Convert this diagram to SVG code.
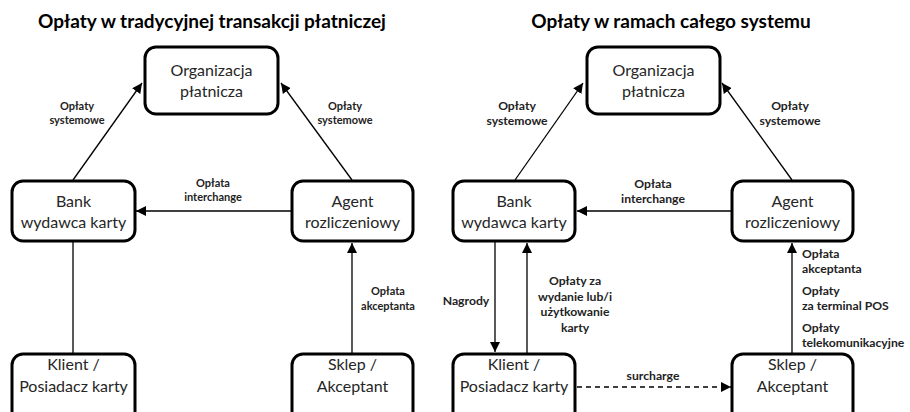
<svg xmlns="http://www.w3.org/2000/svg" width="910" height="412" viewBox="0 0 910 412">
<defs>
<style>
.box{fill:#fff;stroke:#000;stroke-width:3}
.t{font-family:Lato,"Open Sans","Liberation Sans",sans-serif;font-size:16px;fill:#262626;text-anchor:middle}
.title{font-family:Lato,"Open Sans","Liberation Sans",sans-serif;font-size:19px;font-weight:bold;fill:#000;text-anchor:middle}
.lb{font-family:Lato,"Open Sans","Liberation Sans",sans-serif;font-size:11px;font-weight:bold;fill:#222;text-anchor:middle}
.lb2{font-size:12.2px}
.ls{text-anchor:start}
.c{stroke:#000;stroke-width:1.3;fill:none}
.d{stroke-dasharray:5 4}
</style>
<marker id="ah" viewBox="0 0 10 10" refX="10" refY="5" markerWidth="10" markerHeight="10" markerUnits="userSpaceOnUse" orient="auto">
<path d="M0,0 L10,5 L0,10 z" fill="#000"/>
</marker>
</defs>
<rect width="910" height="412" fill="#fff"/>
<text class="title" x="212" y="28">Opłaty w tradycyjnej transakcji płatniczej</text>
<text class="title" x="671" y="28">Opłaty w ramach całego systemu</text>

<g id="connectors">
<line class="c" x1="73" y1="180" x2="142" y2="83" marker-end="url(#ah)"/>
<line class="c" x1="352" y1="180" x2="281" y2="83" marker-end="url(#ah)"/>
<line class="c" x1="292" y1="211" x2="136" y2="211" marker-end="url(#ah)"/>
<line class="c" x1="73" y1="242" x2="73" y2="353"/>
<line class="c" x1="352" y1="353" x2="352" y2="243" marker-end="url(#ah)"/>

<line class="c" x1="515" y1="180" x2="583" y2="83" marker-end="url(#ah)"/>
<line class="c" x1="792" y1="180" x2="722" y2="83" marker-end="url(#ah)"/>
<line class="c" x1="732" y1="211" x2="577" y2="211" marker-end="url(#ah)"/>
<line class="c" x1="495" y1="242" x2="495" y2="352" marker-end="url(#ah)"/>
<line class="c" x1="527" y1="353" x2="527" y2="243" marker-end="url(#ah)"/>
<line class="c" x1="792" y1="353" x2="792" y2="243" marker-end="url(#ah)"/>
<line class="c d" x1="577" y1="387" x2="731" y2="387" marker-end="url(#ah)"/>
</g>

<g id="labels">
<text class="lb" x="77" y="110">Opłaty</text><text class="lb" x="77" y="124">systemowe</text>
<text class="lb" x="345" y="110">Opłaty</text><text class="lb" x="345" y="124">systemowe</text>
<text class="lb" x="213" y="187">Opłata</text><text class="lb" x="213" y="201">interchange</text>
<text class="lb" x="388" y="295">Opłata</text><text class="lb" x="388" y="310">akceptanta</text>

<text class="lb lb2" x="517" y="110">Opłaty</text><text class="lb lb2" x="517" y="125">systemowe</text>
<text class="lb lb2" x="790" y="110">Opłaty</text><text class="lb lb2" x="790" y="125">systemowe</text>
<text class="lb lb2" x="653" y="188">Opłata</text><text class="lb lb2" x="653" y="203">interchange</text>
<text class="lb lb2" x="466" y="305">Nagrody</text>
<text class="lb lb2" x="575" y="285">Opłaty za</text><text class="lb lb2" x="575" y="301">wydanie lub/i</text><text class="lb lb2" x="575" y="316">użytkowanie</text><text class="lb lb2" x="575" y="332">karty</text>
<text class="lb lb2 ls" x="802" y="258">Opłata</text><text class="lb lb2 ls" x="802" y="273">akceptanta</text>
<text class="lb lb2 ls" x="802" y="295">Opłaty</text><text class="lb lb2 ls" x="802" y="310">za terminal POS</text>
<text class="lb lb2 ls" x="802" y="332">Opłaty</text><text class="lb lb2 ls" x="802" y="347">telekomunikacyjne</text>
<text class="lb lb2" x="653" y="380">surcharge</text>
</g>

<g id="org1"><rect class="box" x="145" y="47" width="133" height="67" rx="11"/><text class="t" x="211.5" y="76">Organizacja</text><text class="t" x="211.5" y="97">płatnicza</text></g>
<g id="bank1"><rect class="box" x="12" y="181" width="123" height="60" rx="11"/><text class="t" x="73.5" y="207">Bank</text><text class="t" x="73.5" y="228">wydawca karty</text></g>
<g id="agent1"><rect class="box" x="292" y="181" width="121" height="60" rx="11"/><text class="t" x="352.5" y="207">Agent</text><text class="t" x="352.5" y="228">rozliczeniowy</text></g>
<g id="klient1"><rect class="box" x="12" y="354" width="123" height="70" rx="11"/><text class="t" x="73.5" y="370">Klient /</text><text class="t" x="73.5" y="392">Posiadacz karty</text></g>
<g id="sklep1"><rect class="box" x="292" y="354" width="121" height="70" rx="11"/><text class="t" x="352.5" y="370">Sklep /</text><text class="t" x="352.5" y="392">Akceptant</text></g>

<g id="org2"><rect class="box" x="587" y="47" width="133" height="67" rx="11"/><text class="t" x="653.5" y="76">Organizacja</text><text class="t" x="653.5" y="97">płatnicza</text></g>
<g id="bank2"><rect class="box" x="453" y="181" width="122" height="60" rx="11"/><text class="t" x="514" y="207">Bank</text><text class="t" x="514" y="228">wydawca karty</text></g>
<g id="agent2"><rect class="box" x="732" y="181" width="121" height="60" rx="11"/><text class="t" x="792.5" y="207">Agent</text><text class="t" x="792.5" y="228">rozliczeniowy</text></g>
<g id="klient2"><rect class="box" x="453" y="354" width="122" height="70" rx="11"/><text class="t" x="514" y="370">Klient /</text><text class="t" x="514" y="392">Posiadacz karty</text></g>
<g id="sklep2"><rect class="box" x="732" y="354" width="121" height="70" rx="11"/><text class="t" x="792.5" y="370">Sklep /</text><text class="t" x="792.5" y="392">Akceptant</text></g>
</svg>
